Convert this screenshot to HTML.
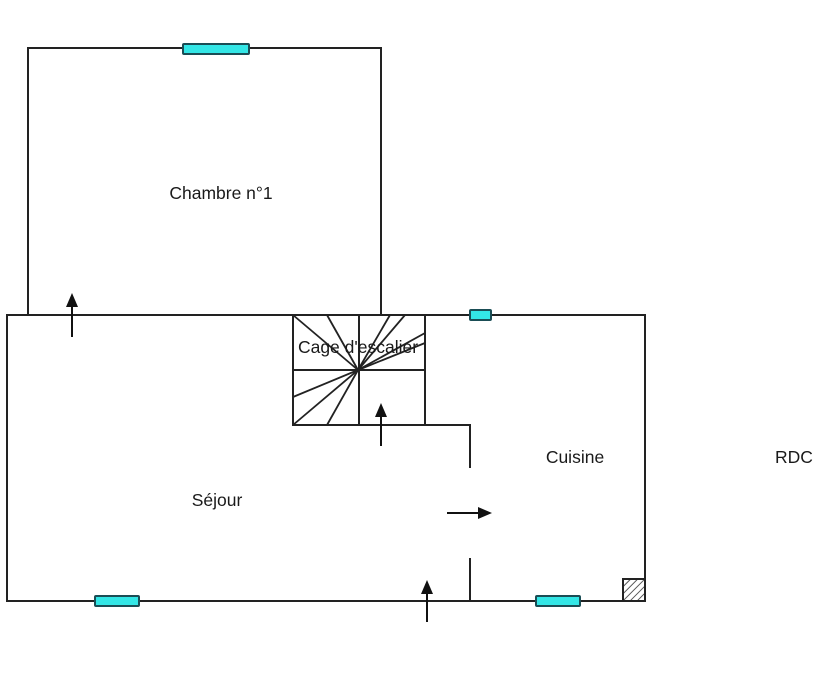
<!DOCTYPE html>
<html><head><meta charset="utf-8"><style>
html,body{margin:0;padding:0;background:#fff;width:835px;height:694px;overflow:hidden}
text{font-family:"Liberation Sans",sans-serif;font-size:17.5px;fill:#1a1a1a}
</style></head><body>
<svg width="835" height="694" viewBox="0 0 835 694" xmlns="http://www.w3.org/2000/svg">
<defs>
<pattern id="h" width="5" height="5" patternUnits="userSpaceOnUse" patternTransform="rotate(45)">
<line x1="0" y1="0" x2="0" y2="5" stroke="#222" stroke-width="1.5"/></pattern>
</defs>
<g stroke="#222" stroke-width="2" fill="none">
<polyline points="28,315 28,48 381,48 381,315"/>
<rect x="7" y="315" width="638" height="286"/>
<rect x="293" y="315" width="132" height="110"/>
<line x1="359" y1="315" x2="359" y2="425"/>
<line x1="293" y1="370" x2="425" y2="370"/>
<g stroke-width="1.8">
<line x1="358" y1="370" x2="293" y2="315"/>
<line x1="358" y1="370" x2="327" y2="315"/>
<line x1="358" y1="370" x2="390" y2="315"/>
<line x1="358" y1="370" x2="405" y2="315"/>
<line x1="358" y1="370" x2="425" y2="333"/>
<line x1="358" y1="370" x2="425" y2="343"/>
<line x1="358" y1="370" x2="293" y2="397"/>
<line x1="358" y1="370" x2="293" y2="425"/>
<line x1="358" y1="370" x2="327" y2="425"/>
</g>
<polyline points="425,425 470,425 470,468"/>
<line x1="470" y1="558" x2="470" y2="601"/>
</g>
<rect x="623" y="579" width="22" height="22" fill="url(#h)" stroke="#222" stroke-width="2"/>
<g fill="#33e6e6" stroke="#1a4d55" stroke-width="2">
<rect x="183" y="44" width="66" height="10" rx="1"/>
<rect x="470" y="310" width="21" height="10" rx="1"/>
<rect x="95" y="596" width="44" height="10" rx="1"/>
<rect x="536" y="596" width="44" height="10" rx="1"/>
</g>
<g stroke="#111" stroke-width="2">
<line x1="72" y1="337" x2="72" y2="305"/>
<line x1="381" y1="446" x2="381" y2="415"/>
<line x1="447" y1="513" x2="480" y2="513"/>
<line x1="427" y1="622" x2="427" y2="592"/>
</g>
<g fill="#111">
<polygon points="72,293 66,307 78,307"/>
<polygon points="381,403 375,417 387,417"/>
<polygon points="492,513 478,507 478,519"/>
<polygon points="427,580 421,594 433,594"/>
</g>
<text x="221" y="199" text-anchor="middle">Chambre n°1</text>
<text x="358" y="353" text-anchor="middle">Cage d'escalier</text>
<text x="575" y="463" text-anchor="middle">Cuisine</text>
<text x="217" y="506" text-anchor="middle">Séjour</text>
<text x="794" y="463" text-anchor="middle">RDC</text>
</svg>
</body></html>
